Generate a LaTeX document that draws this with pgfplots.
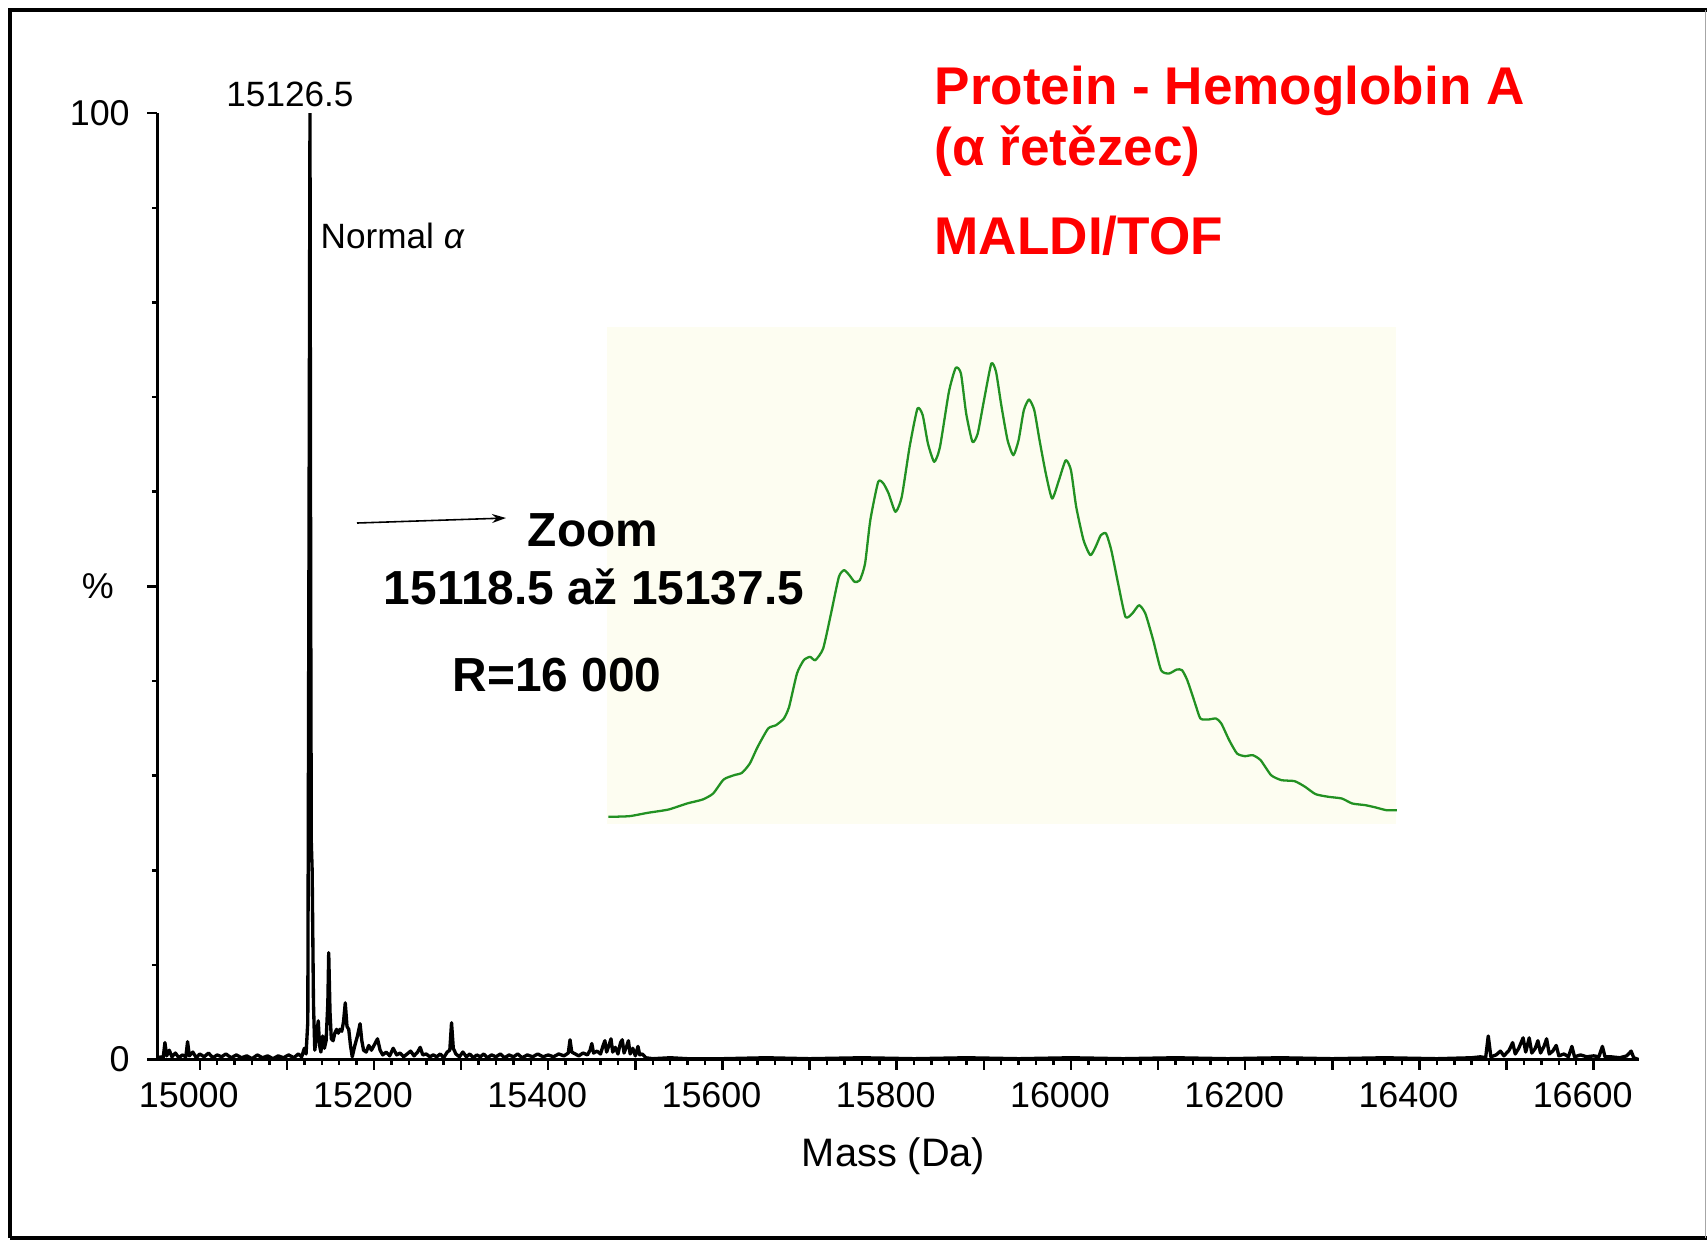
\documentclass[border=0pt]{standalone}
\usepackage{fontspec}
\setmainfont{Liberation Sans}
\usepackage{pgfplots}
\pgfplotsset{compat=1.18}
\usetikzlibrary{arrows.meta}
\definecolor{insetbg}{RGB}{253,253,241}
\definecolor{specgreen}{RGB}{34,145,34}
\definecolor{titlered}{RGB}{255,0,0}

\pgfplotstableread{
m I
14951 0
14955 0.3
14958 0.2
14960 1.8
14962 0.4
14965 1.0
14968 0.3
14972 0.7
14976 0.2
14980 0.5
14984 0.3
14986 1.9
14988 0.4
14992 0.8
14996 0.2
15000 0.6
15005 0.3
15010 0.7
15015 0.2
15020 0.5
15025 0.3
15030 0.6
15036 0.2
15042 0.5
15048 0.2
15054 0.4
15060 0.1
15066 0.5
15072 0.2
15078 0.4
15084 0.1
15090 0.4
15096 0.2
15102 0.5
15108 0.2
15113 0.6
15117 0.3
15120 1.2
15122 0.6
15124 4
15125.5 60
15126.5 100
15127.3 50
15128 23
15129 20
15130.5 6
15132 1.0
15134 2.5
15136 4.1
15137.5 1.5
15139 0.8
15141 2.5
15143 1.2
15145 2.0
15147 6
15148 11.3
15149.5 5
15151 2.2
15153 2.0
15155 2.8
15157 3.2
15159 2.8
15161 3.2
15163 3.0
15165 4
15167 6.0
15169 3.5
15171 3.2
15173 1.5
15175 0.3
15178 1.5
15181 2.5
15184 3.8
15186 2.0
15188 1.0
15191 0.8
15194 1.5
15197 1.0
15200 1.5
15204 2.2
15207 1.0
15210 0.5
15214 0.8
15218 0.4
15222 1.2
15226 0.5
15230 0.7
15234 0.3
15238 0.6
15242 0.9
15246 0.4
15250 0.8
15253 1.3
15256 0.5
15260 0.6
15264 0.3
15268 0.5
15272 0.3
15276 0.6
15280 0.2
15284 0.8
15287 1.0
15289 3.9
15291 1.2
15294 0.6
15298 0.3
15302 0.8
15306 0.3
15310 0.6
15314 0.2
15318 0.5
15322 0.3
15326 0.6
15330 0.2
15335 0.5
15340 0.3
15345 0.6
15350 0.2
15355 0.5
15360 0.3
15365 0.6
15370 0.2
15376 0.5
15382 0.3
15388 0.6
15394 0.3
15400 0.5
15406 0.3
15412 0.6
15418 0.4
15423 0.7
15425 2.1
15427 0.8
15431 0.6
15435 0.4
15440 0.7
15445 0.5
15448 1.0
15450 1.7
15452 0.7
15456 0.9
15460 0.6
15463 1.5
15465 2.0
15467 0.8
15470 1.6
15472 2.2
15474 0.8
15477 1.3
15480 0.6
15483 1.8
15485 2.1
15487 0.7
15490 1.4
15492 2.0
15494 0.6
15497 1.2
15500 0.4
15503 1.4
15505 0.5
15508 0.6
15512 0.2
15520 0.1
15540 0.2
15560 0.1
15600 0.1
15650 0.2
15700 0.1
15760 0.2
15820 0.1
15880 0.2
15940 0.1
16000 0.2
16060 0.1
16120 0.2
16180 0.1
16240 0.2
16300 0.1
16360 0.2
16420 0.1
16460 0.2
16470 0.3
16476 0.2
16479 2.5
16482 0.3
16488 0.5
16493 0.9
16497 0.4
16503 1.0
16507 1.8
16510 0.6
16514 1.2
16519 2.3
16522 0.8
16526 2.3
16529 0.7
16533 1.2
16536 2.0
16539 0.7
16543 1.4
16546 2.2
16549 0.6
16553 0.9
16557 1.5
16560 0.4
16566 0.6
16571 0.3
16575 1.4
16578 0.3
16585 0.5
16592 0.3
16600 0.4
16606 0.3
16610 1.4
16613 0.3
16620 0.3
16630 0.2
16638 0.4
16643 0.9
16646 0.2
16652 0
}\spectrum

\pgfplotstableread{
x y
35 20
75 22
110 32
150 42
185 60
215 72
235 90
255 132
275 145
290 152
305 180
320 230
340 285
355 295
370 315
380 350
395 450
408 490
420 500
430 490
445 525
460 630
475 740
485 760
495 745
505 725
515 730
525 780
535 910
550 1025
560 1020
570 990
583 935
595 980
610 1130
625 1245
635 1225
645 1140
657 1085
668 1130
685 1295
698 1367
708 1350
718 1230
730 1145
740 1170
752 1270
766 1380
775 1355
785 1255
797 1150
808 1105
818 1150
828 1240
838 1272
848 1240
858 1150
870 1050
882 975
895 1030
908 1090
918 1060
928 950
942 850
955 805
965 830
975 865
985 870
995 820
1008 720
1022 620
1035 630
1048 655
1060 630
1075 550
1090 460
1105 450
1120 462
1130 460
1140 430
1155 360
1165 315
1180 312
1195 315
1205 300
1220 250
1235 210
1250 202
1265 205
1280 190
1300 145
1320 130
1345 127
1365 110
1385 88
1410 80
1435 75
1455 60
1480 55
1500 48
1520 40
1540 40
}\zoomcurve

\begin{document}
\begin{tikzpicture}
\begin{scope}[x=0.01cm,y=-0.01cm]
\path[use as bounding box] (0,0) rectangle (1707,1241);
\fill[white] (0,0) rectangle (1707,1241);
\draw[line width=1.4pt] (10,1238) -- (10,10) -- (1707,10);
\draw[line width=1.2pt] (10,1238) -- (1707,1238);
\draw[line width=0.3pt, black!35] (1705,10) -- (1705,1238);
\fill[insetbg] (607,327) rectangle (1396,824);
\end{scope}

\begin{axis}[
  at={(1.57cm,-10.59cm)}, anchor=south west,
  width=14.81cm, height=9.46cm, scale only axis,
  xmin=14951, xmax=16652, ymin=0, ymax=100,
  axis x line=bottom, axis y line=left,
  axis line style={-, line width=0.9pt},
  xtick={15000,15200,...,16600},
  extra x ticks={15100,15300,...,16500},
  extra x tick labels={},
  minor x tick num=9,
  ytick={0,50,100},
  yticklabels={0,{\%\kern0.16cm},100},
  minor y tick num=4,
  tick align=outside,
  major tick length=0.1cm, minor tick length=0.05cm,
  tick style={black, line width=0.7pt},
  scaled x ticks=false,
  /pgf/number format/assume math mode=true,
  /pgf/number format/1000 sep={},
  ticklabel style={font=\fontsize{10.2}{12}\selectfont},
  xticklabel style={xshift=-0.11cm},
  yticklabel style={xshift=-0.05cm},
  xlabel={Mass (Da)},
  xlabel style={font=\fontsize{11.3}{13}\selectfont, at={(axis description cs:0.497,0)}, anchor=center, yshift=-0.97cm},
]
\addplot[black, line width=0.95pt, line join=round] table[x=m, y=I] {\spectrum};
\end{axis}

\begin{axis}[
  at={(6.08cm,-8.23cm)}, anchor=south west,
  width=7.88cm, height=4.93cm, scale only axis,
  xmin=35, xmax=1540, ymin=0, ymax=1480,
  hide axis, clip=false,
]
\addplot[specgreen, line width=0.65pt, line join=round, smooth, tension=0.35] table[x=x, y=y] {\zoomcurve};
\end{axis}

\begin{scope}[x=0.01cm,y=-0.01cm]
\node[anchor=base west, text=titlered, font=\bfseries\fontsize{15.1}{18}\selectfont, inner sep=0pt] at (934,104) {Protein - Hemoglobin A};
\node[anchor=base west, text=titlered, font=\bfseries\fontsize{15.1}{18}\selectfont, inner sep=0pt] at (934,165) {(α řetězec)};
\node[anchor=base west, text=titlered, font=\bfseries\fontsize{15.1}{18}\selectfont, inner sep=0pt] at (934,254) {MALDI/TOF};
\node[anchor=base, font=\bfseries\fontsize{13.6}{16}\selectfont, inner sep=0pt] at (593,546) {Zoom};
\node[anchor=base, font=\bfseries\fontsize{13.6}{16}\selectfont, inner sep=0pt] at (594,604) {15118.5 až 15137.5};
\node[anchor=base west, font=\bfseries\fontsize{13.6}{16}\selectfont, inner sep=0pt] at (452,691) {R=16 000};
\node[anchor=base, font=\fontsize{10}{12}\selectfont, inner sep=0pt] at (290,106) {15126.5};
\node[anchor=base west, font=\fontsize{10}{12}\selectfont, inner sep=0pt] at (320,248) {Normal \textit{α}};
\draw[line width=0.45pt, -{Stealth[length=0.14cm, width=0.09cm]}] (357,523) -- (506,518);
\end{scope}
\end{tikzpicture}
\end{document}
